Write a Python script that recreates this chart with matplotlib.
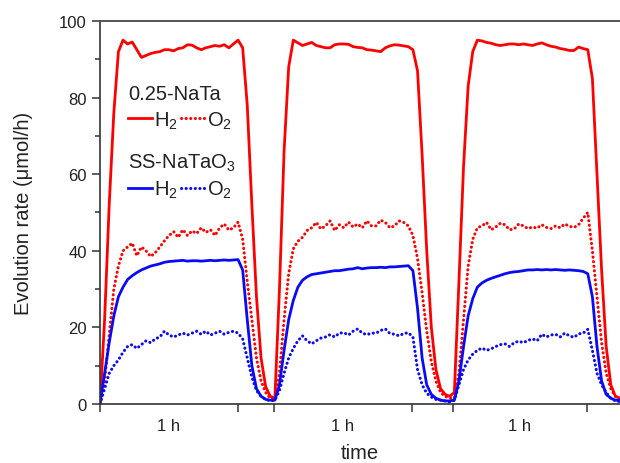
import numpy as np
import matplotlib
matplotlib.use('Agg')
import matplotlib.pyplot as plt
from matplotlib.lines import Line2D

plt.rcParams['font.family'] = ['Liberation Sans', 'DejaVu Sans']
plt.rcParams['mathtext.default'] = 'regular'

# time in minutes, one reading every 2 min
time = np.arange(0, 228, 2)

# 0.25-NaTa, H2 (three light-on / light-off cycles)
h2_nata = [0, 22, 52, 76, 92, 95, 94, 94.5, 92.5, 90.5,
           91, 91.5, 91.8, 92, 92.5, 92.5, 92.2, 92.8, 93, 93.8,
           93.7, 93, 92.5, 93, 93.3, 93.6, 93.4, 93.8, 93, 94,
           95, 93, 78, 52, 28, 12, 4.5, 2,
           1.5, 30, 66, 88, 95, 94.3, 93.6, 94, 94.4, 93.6,
           93.3, 93, 93, 93.8, 94, 94, 93.9, 93.3, 93.1, 93,
           92.5, 92.4, 92.2, 92, 93, 93.5, 93.8, 93.7, 93.5, 93.3,
           92.5, 87, 65, 40, 20, 9, 4, 2.5, 2,
           3, 32, 62, 83, 92, 95, 94.8, 94.4, 94.2, 93.8,
           93.6, 93.8, 94, 94, 93.8, 94, 93.8, 93.6, 94, 94.3,
           93.8, 93.4, 93.2, 92.8, 92.6, 92.3, 92.3, 93.2, 92.8, 92.5,
           85, 60, 35, 15, 5, 2, 1.5]

# 0.25-NaTa, O2
o2_nata = [0, 6, 18, 30, 36, 40, 41, 42, 38.7, 41,
           40, 38.5, 39.5, 41, 42.6, 44, 45, 43.5, 45.5, 44,
           45.2, 44.5, 46, 44.8, 45.5, 44, 46, 47, 45.4, 46,
           47.5, 43, 32, 22, 12, 6, 3, 1.5,
           1, 8, 22, 34, 40.5, 42.5, 43.5, 45.3, 46, 47.4,
           45.7, 46.5, 47.8, 45.3, 46.8, 46, 47.5, 46.2, 47, 46,
           47.8, 46.5, 46.5, 48, 47.4, 46, 46.5, 47.8, 47.4, 46.5,
           44, 38, 29, 19, 11, 6, 3, 2, 1.5,
           1.5, 8, 22, 36, 43, 46, 46.5, 47.4, 45.5, 46.2,
           47.2, 46.8, 45.5, 45.7, 47, 46.5, 45.8, 46.2, 45.9, 46.8,
           46.1, 45.8, 46.5, 46, 47, 46.4, 46.1, 46.8, 48.5, 50,
           40, 28, 16, 8, 4, 2, 1.5]

# SS-NaTaO3, H2
h2_ss = [0, 8, 16, 23, 28, 30.5, 32.5, 33.5, 34.3, 35,
         35.5, 36, 36.3, 36.6, 37, 37.2, 37.3, 37.4, 37.5, 37.3,
         37.4, 37.4, 37.3, 37.4, 37.5, 37.4, 37.5, 37.6, 37.5, 37.6,
         37.7, 35, 22, 10, 4, 2, 1.2, 1,
         1, 5, 14, 22, 27, 30.5, 32.3, 33.2, 33.8, 34,
         34.2, 34.4, 34.6, 34.8, 34.8, 35, 35.2, 35.3, 35.6, 35.3,
         35.5, 35.6, 35.6, 35.7, 35.6, 35.8, 35.8, 35.9, 36, 36.1,
         34.8, 25, 12, 5, 2.5, 1.5, 1, 0.8, 0.8,
         1, 6, 15, 23, 27.5, 30.5, 31.6, 32.3, 32.8, 33.2,
         33.6, 34, 34.3, 34.5, 34.6, 34.8, 35, 35, 35.1, 35,
         35.1, 35, 35.1, 35, 34.9, 35, 34.9, 34.8, 34.6, 34,
         28, 15, 6, 2.5, 1.5, 1, 1]

# SS-NaTaO3, O2
o2_ss = [0, 4, 8, 10, 11.5, 13.5, 15, 15.5, 14.5, 15.5,
         16.5, 16, 17, 17.5, 19, 18, 17.5, 18, 18.5, 18,
         18.5, 19, 18.2, 19, 18, 18.5, 19, 18.2, 18.7, 19,
         18.5, 17, 12, 7, 3.5, 2, 1.2, 0.8,
         1, 3.5, 8, 12, 14.5, 16.5, 17.8, 16.5, 15.7, 16.5,
         17.2, 17.5, 18.1, 17.5, 18.5, 18.6, 18, 19, 19.6, 18.5,
         18.1, 18.5, 18.5, 19.2, 19.6, 18.4, 18.2, 17.8, 18.4, 18.6,
         17.5, 9, 5, 2.8, 1.8, 1.2, 1, 0.8, 0.5,
         1, 5, 9, 11.5, 13, 14, 14.6, 14, 14.4, 15,
         15.5, 15.7, 15, 16, 16.4, 16, 16.6, 17, 16.5, 18.2,
         17.5, 18, 18.2, 17.5, 18.5, 17.8, 17.4, 18.3, 18.5, 19.5,
         14, 8, 5, 3, 1.5, 0.8, 0.6]

# light switched on / off (min)
switch_times = [0, 60, 75.5, 135.5, 153.5, 211.5]
period_labels = ['1 h', '1 h', '1 h']

RED = '#ff0000'
BLUE = '#0a0af5'
dotted = (0, (0.05, 1.45))

fig = plt.figure(figsize=(6.2, 4.64), dpi=100)
ax = fig.add_axes([0.1613, 0.1272, 0.8387, 0.8254])

ax.plot(time, h2_nata, color=RED, lw=2.0)
ax.plot(time, o2_nata, color=RED, lw=2.2, linestyle=dotted, dash_capstyle='round')
ax.plot(time, h2_ss, color=BLUE, lw=2.0)
ax.plot(time, o2_ss, color=BLUE, lw=2.2, linestyle=dotted, dash_capstyle='round')

ax.set_xlim(0, 226)
ax.set_ylim(0, 100)

ax.set_yticks([0, 20, 40, 60, 80, 100])
ax.set_yticks([10, 30, 50, 70, 90], minor=True)
ax.set_xticks(switch_times, labels=[''] * len(switch_times))
mids = [(switch_times[0] + switch_times[1]) / 2,
        (switch_times[2] + switch_times[3]) / 2,
        (switch_times[4] + switch_times[5]) / 2]
ax.set_xticks(mids, labels=period_labels, minor=True)

ax.tick_params(axis='y', which='major', direction='out', length=6, width=1.1,
               labelsize=12, colors='#333333', labelcolor='#222222')
ax.tick_params(axis='y', which='minor', direction='out', length=3.5, width=1.1,
               colors='#333333')
ax.tick_params(axis='x', which='major', direction='out', length=6, width=1.1,
               colors='#333333')
ax.tick_params(axis='x', which='minor', length=0, pad=10, labelsize=12,
               labelcolor='#222222')

for side in ['left', 'bottom']:
    ax.spines[side].set_color('#333333')
    ax.spines[side].set_linewidth(1.2)
ax.spines['top'].set_color('#555555')
ax.spines['top'].set_linewidth(1.4)
ax.spines['right'].set_visible(False)

ax.set_ylabel('Evolution rate (\u03bcmol/h)', fontsize=14.5, color='#222222')
ax.set_xlabel('time', fontsize=14.5, color='#222222')
ax.yaxis.set_label_coords(-0.128, 0.5)
ax.xaxis.set_label_coords(0.5, -0.103)

def make_legend(color, title, anchor):
    handles = [Line2D([], [], color=color, lw=2.0),
               Line2D([], [], color=color, lw=2.2, linestyle=dotted,
                      dash_capstyle='round')]
    leg = ax.legend(handles, ['H$_2$', 'O$_2$'], title=title, ncol=2,
                    loc='upper left', bbox_to_anchor=anchor, frameon=False,
                    fontsize=14.5, title_fontsize=14.5, alignment='left',
                    handlelength=1.2, handletextpad=0.1, columnspacing=0.15,
                    borderpad=0, borderaxespad=0, labelspacing=0.3)
    for txt in leg.get_texts():
        txt.set_color('#222222')
    leg.get_title().set_color('#222222')
    return leg

leg1 = make_legend(RED, '0.25-NaTa', (0.054, 0.835))
ax.add_artist(leg1)
make_legend(BLUE, 'SS-NaTaO$_3$', (0.054, 0.66))

fig.savefig('out.png', dpi=100)
